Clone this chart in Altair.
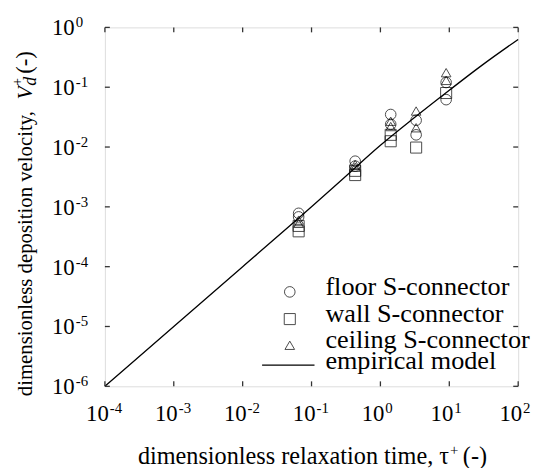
import altair as alt
import pandas as pd

# ---------------- data ----------------
decades_x = [1e-4, 1e-3, 1e-2, 1e-1, 1e0, 1e1, 1e2]
decades_y = [1e-6, 1e-5, 1e-4, 1e-3, 1e-2, 1e-1, 1e0]

floor_tau = [0.065, 0.065, 0.43, 0.43, 1.41, 1.41, 3.3, 3.3, 9.0, 9.0]
floor_v = [7.8e-4, 6.8e-4, 5.8e-3, 4.8e-3, 0.035, 0.024, 0.028, 0.016, 0.12, 0.062]

wall_tau = [0.065, 0.065, 0.43, 0.43, 1.41, 1.41, 3.3, 9.0]
wall_v = [4.8e-4, 3.9e-4, 4.0e-3, 3.4e-3, 0.016, 0.0125, 0.0098, 0.08]

ceil_tau = [0.065, 0.065, 0.43, 0.43, 1.41, 1.41, 3.3, 3.3, 9.0, 9.0]
ceil_v = [6.0e-4, 5.3e-4, 5.1e-3, 4.6e-3, 0.027, 0.022, 0.040, 0.021, 0.175, 0.13]

model_tau = [1e-4, 1e-3, 1e-2, 1e-1, 0.3, 1.0, 3.0, 10.0, 30.0, 100.0]
model_v = [1e-6, 1e-5, 1e-4, 1e-3, 3.1e-3, 1.07e-2, 3.0e-2, 8.9e-2, 0.234, 0.63]

legend_labels = ["floor S-connector", "wall S-connector", "ceiling S-connector", "empirical model"]
legend_shapes = ["circle", "square", "triangle-up"]

x_title = ["dimensionless relaxation time, τ", "+", "(-)"]
y_title = ["dimensionless deposition velocity,", "V", "+", "d", "(-)"]

# ---------------- layout / style ----------------
W, H = 418, 363
FONT = "Liberation Serif"
INK = "black"
FRAME = "#333"
SIZES = {"circle": 115, "square": 125, "triangle-up": 95}

xs = alt.Scale(type="log", domain=[1e-4, 1e2], nice=False)
ys = alt.Scale(type="log", domain=[1e-6, 1e0], nice=False)


def X(f):
    return alt.X(f, type="quantitative", scale=xs, axis=None)


def Y(f):
    return alt.Y(f, type="quantitative", scale=ys, axis=None)


def one(text):
    return pd.DataFrame({"t": [text]})


layers = []

# empirical model
mdf = pd.DataFrame({"tau": model_tau, "v": model_v})
layers.append(alt.Chart(mdf).mark_line(color=INK, strokeWidth=1.3, interpolate="monotone")
              .encode(x=X("tau"), y=Y("v")))

# data points
for tau, v, shp in [(floor_tau, floor_v, "circle"), (wall_tau, wall_v, "square"),
                    (ceil_tau, ceil_v, "triangle-up")]:
    df = pd.DataFrame({"tau": tau, "v": v})
    layers.append(alt.Chart(df).mark_point(shape=shp, filled=False, color=INK,
                                           size=SIZES[shp], strokeWidth=1)
                  .encode(x=X("tau"), y=Y("v")))

# inward ticks on all four sides
tx = pd.DataFrame({"tx": decades_x})
ty = pd.DataFrame({"ty": decades_y})
for y0, y1 in [(H, H - 5), (0, 5)]:
    layers.append(alt.Chart(tx).mark_rule(color=FRAME, strokeWidth=1.3)
                  .encode(x=X("tx"), y=alt.value(y0), y2=alt.value(y1)))
for x0, x1 in [(0, 5), (W, W - 5)]:
    layers.append(alt.Chart(ty).mark_rule(color=FRAME, strokeWidth=1.3)
                  .encode(y=Y("ty"), x=alt.value(x0), x2=alt.value(x1)))

# tick labels: "10" plus a raised exponent
EXP = "'' + round(log(datum.{f})/LN10)"
xl = alt.Chart(tx).transform_calculate(e=EXP.format(f="tx"))
layers.append(xl.mark_text(font=FONT, fontSize=23, align="right", baseline="alphabetic",
                           color=INK, dx=4)
              .encode(x=X("tx"), y=alt.value(H + 35), text=alt.value("10")))
layers.append(xl.mark_text(font=FONT, fontSize=15, align="left", baseline="alphabetic",
                           color=INK, dx=5, dy=-8)
              .encode(x=X("tx"), y=alt.value(H + 35), text="e:N"))
yl = alt.Chart(ty).transform_calculate(e=EXP.format(f="ty"))
layers.append(yl.mark_text(font=FONT, fontSize=23, align="right", baseline="alphabetic",
                           color=INK, dy=8)
              .encode(y=Y("ty"), x=alt.value(-30.5), text=alt.value("10")))
layers.append(yl.mark_text(font=FONT, fontSize=15, align="left", baseline="alphabetic",
                           color=INK, dy=0)
              .encode(y=Y("ty"), x=alt.value(-29.5), text="e:N"))

# legend
sym_y = [267.5, 295, 321.5]
txt_y = [270.5, 297.5, 324.5, 345.5]
for i, shp in enumerate(legend_shapes):
    layers.append(alt.Chart(one(legend_labels[i])).mark_point(shape=shp, filled=False, color=INK,
                                                              size=SIZES[shp], strokeWidth=1)
                  .encode(x=alt.value(187), y=alt.value(sym_y[i])))
for i, lab in enumerate(legend_labels):
    layers.append(alt.Chart(one(lab)).mark_text(font=FONT, fontSize=26.5, align="left",
                                                baseline="alphabetic", color=INK)
                  .encode(text="t:N", x=alt.value(223), y=alt.value(txt_y[i])))
layers.append(alt.Chart(one(legend_labels[3])).mark_rule(color=INK, strokeWidth=1.3)
              .encode(x=alt.value(159), x2=alt.value(212), y=alt.value(341.5)))

# x-axis title pieces
x_pieces = [
    (x_title[0], 348, 441.7, 24.5, "right", 0),
    (x_title[1], 349, 441.7, 15, "left", -9),
    (x_title[2], 362, 441.7, 24.5, "left", 0),
]
for txt, px, py, fs, al, dy in x_pieces:
    layers.append(alt.Chart(one(txt)).mark_text(font=FONT, fontSize=fs, align=al, dy=dy,
                                                baseline="alphabetic", color=INK)
                  .encode(text="t:N", x=alt.value(px), y=alt.value(py)))

# y-axis title pieces (rotated, reading upward)
y_pieces = [
    (y_title[0], -74, 373, 21, "normal"),
    (y_title[1], -74, 73, 22, "italic"),
    (y_title[2], -84, 59, 14, "normal"),
    (y_title[3], -70, 59, 18, "italic"),
    (y_title[4], -74, 47, 23, "normal"),
]
for txt, px, py, fs, style in y_pieces:
    layers.append(alt.Chart(one(txt)).mark_text(font=FONT, fontSize=fs, fontStyle=style,
                                                angle=270, align="left", baseline="alphabetic",
                                                color=INK)
                  .encode(text="t:N", x=alt.value(px), y=alt.value(py)))

chart = alt.layer(*layers).properties(
    width=W, height=H,
    autosize=alt.AutoSizeParams(type="none"),
    padding={"left": 98, "top": 17, "right": 16, "bottom": 80},
).configure_view(stroke=FRAME, strokeWidth=1.5).configure(background="white")

chart.save("out.html", embed_options={"renderer": "svg", "actions": False})
